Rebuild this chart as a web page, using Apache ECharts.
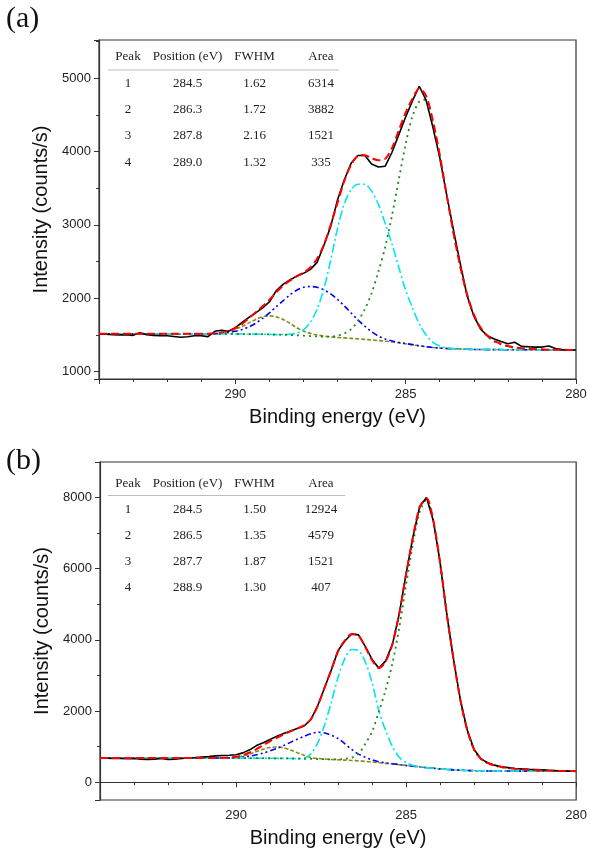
<!DOCTYPE html>
<html>
<head>
<meta charset="utf-8">
<script src="https://cdn.jsdelivr.net/npm/echarts@6/dist/echarts.min.js"></script>
<style>
html,body{margin:0;padding:0;background:#fff;}
#chart{width:590px;height:850px;}
</style>
</head>
<body>
<div id="chart"></div>
<script>
// Binding energy grid (eV)
const energies = [294.0,293.8,293.6,293.4,293.2,293.0,292.8,292.6,292.4,292.2,292.0,291.8,291.6,291.4,291.2,291.0,290.8,290.6,290.4,290.2,290.0,289.8,289.6,289.4,289.2,289.0,288.8,288.6,288.4,288.2,288.0,287.8,287.6,287.4,287.2,287.0,286.8,286.6,286.4,286.2,286.0,285.8,285.6,285.4,285.2,285.0,284.8,284.6,284.4,284.2,284.0,283.8,283.6,283.4,283.2,283.0,282.8,282.6,282.4,282.2,282.0,281.8,281.6,281.4,281.2,281.0,280.8,280.6,280.4,280.2,280.0];

// Panel (a)
const expA = [1515,1510,1505,1500,1505,1495,1530,1505,1495,1490,1490,1480,1468,1475,1490,1490,1478,1550,1565,1550,1600,1670,1740,1800,1870,1950,2100,2190,2250,2300,2340,2390,2490,2720,2980,3340,3615,3840,3945,3950,3830,3790,3800,3990,4230,4470,4690,4890,4700,4330,3920,3420,2940,2480,2040,1760,1580,1490,1445,1410,1380,1400,1345,1340,1335,1335,1350,1315,1300,1295,1295];
const fitA = [1515,1515,1515,1515,1515,1515,1515,1515,1515,1515,1515,1515,1515,1515,1515,1515,1518,1525,1535,1555,1590,1650,1730,1810,1890,1980,2080,2170,2240,2300,2350,2420,2540,2730,3000,3300,3600,3820,3940,3950,3910,3880,3900,4050,4290,4530,4720,4860,4760,4420,3960,3420,2900,2440,2060,1780,1600,1490,1420,1380,1350,1330,1320,1315,1310,1305,1300,1300,1298,1296,1295];
const peak1A = [1515,1515,1515,1515,1515,1515,1515,1515,1515,1515,1515,1515,1515,1515,1515,1515,1515,1515,1515,1514,1514,1513,1512,1511,1510,1508,1505,1502,1499,1495,1490,1485,1480,1478,1478,1490,1520,1580,1690,1850,2070,2360,2700,3130,3620,4100,4480,4680,4710,4360,3930,3420,2900,2440,2050,1770,1590,1480,1410,1370,1345,1325,1315,1308,1304,1301,1299,1298,1297,1296,1296];
const peak2A = [1515,1515,1515,1515,1515,1515,1515,1515,1515,1515,1515,1515,1515,1515,1515,1515,1515,1515,1515,1514,1514,1513,1512,1511,1510,1508,1505,1508,1510,1525,1570,1670,1850,2130,2520,2950,3290,3480,3555,3555,3460,3280,3020,2740,2420,2110,1870,1650,1500,1400,1350,1325,1314,1308,1305,1303,1302,1301,1300,1300,1299,1299,1298,1298,1298,1297,1297,1297,1296,1296,1296];
const peak3A = [1515,1515,1515,1515,1515,1515,1515,1515,1515,1515,1515,1515,1515,1515,1515,1515,1515,1515,1525,1535,1550,1575,1610,1660,1725,1800,1885,1965,2045,2110,2150,2160,2150,2115,2060,1985,1895,1800,1705,1620,1545,1485,1445,1418,1398,1383,1368,1353,1340,1330,1322,1316,1312,1308,1305,1303,1302,1301,1300,1300,1299,1299,1298,1298,1298,1297,1297,1297,1296,1296,1296];
const peak4A = [1515,1515,1515,1515,1515,1515,1515,1515,1515,1515,1515,1515,1515,1515,1515,1515,1515,1522,1532,1550,1578,1615,1665,1712,1748,1760,1748,1712,1660,1600,1553,1522,1500,1485,1474,1465,1460,1454,1447,1440,1432,1424,1415,1405,1393,1380,1366,1352,1340,1330,1322,1316,1312,1308,1305,1303,1302,1301,1300,1300,1299,1299,1298,1298,1298,1297,1297,1297,1296,1296,1296];

// Panel (b)
const expB = [680,675,670,665,660,665,650,640,650,665,640,645,670,680,690,710,720,740,750,758,770,825,910,1030,1110,1200,1290,1370,1440,1510,1580,1760,2150,2650,3150,3700,3970,4170,4140,3820,3450,3200,3410,3880,4740,5860,6890,7750,8000,7350,6170,4700,3420,2290,1460,920,660,545,480,435,410,385,375,365,358,350,338,327,318,312,310];
const fitB = [680,680,680,680,680,680,680,680,680,680,680,680,680,680,680,680,680,680,685,695,715,760,835,930,1040,1150,1250,1345,1430,1510,1600,1770,2140,2650,3160,3680,3990,4160,4120,3800,3430,3210,3400,3890,4750,5850,6880,7730,7980,7350,6160,4700,3420,2290,1460,915,655,540,472,428,400,380,364,352,342,334,327,321,316,313,311];
const peak1B = [680,680,680,680,680,680,680,680,680,680,680,680,680,680,680,680,680,680,680,680,679,678,677,676,675,673,671,669,667,664,660,656,651,646,640,640,660,690,800,1080,1420,1990,2600,3350,4350,5550,6700,7600,7950,7330,6150,4690,3410,2280,1450,905,650,535,470,425,398,378,362,350,340,333,326,320,316,313,311];
const peak2B = [680,680,680,680,680,680,680,680,680,680,680,680,680,680,680,680,680,680,680,680,679,678,677,676,675,673,671,669,667,664,672,800,1100,1600,2250,2950,3480,3730,3700,3380,2800,2000,1450,1000,700,550,470,435,410,392,375,360,348,338,330,324,319,316,315,314,313,313,312,312,312,311,311,311,310,310,310];
const peak3B = [680,680,680,680,680,680,680,680,680,680,680,680,680,680,680,680,680,680,682,685,695,710,735,770,820,880,950,1030,1120,1210,1290,1360,1405,1385,1320,1230,1080,920,790,700,630,575,545,520,497,470,450,430,410,392,375,360,348,338,330,324,319,316,315,314,313,313,312,312,312,311,311,311,310,310,310];
const peak4B = [680,680,680,680,680,680,680,680,680,680,680,680,680,680,680,680,680,680,680,688,705,740,795,860,925,975,990,965,905,830,760,690,668,652,640,632,622,612,600,585,568,548,530,512,492,470,450,430,410,392,375,360,348,338,330,324,319,316,315,314,313,313,312,312,312,311,311,311,310,310,310];

// Table contents
const tableHeader = ['Peak','Position (eV)','FWHM','Area'];
const tableA = [['1','284.5','1.62','6314'],['2','286.3','1.72','3882'],['3','287.8','2.16','1521'],['4','289.0','1.32','335']];
const tableB = [['1','284.5','1.50','12924'],['2','286.5','1.35','4579'],['3','287.7','1.87','1521'],['4','288.9','1.30','407']];
const panelLabels = ['(a)','(b)'];
const xName = 'Binding energy (eV)';
const yName = 'Intensity (counts/s)';

function pairs(arr){ return energies.map((e,i)=>[e, arr[i]]); }

const lineStyles = {
  p4:{color:'#8a8a1c', width:1.6, type:[4,2]},
  p3:{color:'#0000ff', width:1.6, type:[6,3,2,3,2,3]},
  p2:{color:'#00e5ee', width:1.6, type:[9,3,2,3]},
  p1:{color:'#1b8a1b', width:1.8, type:[2,4]},
  exp:{color:'#000000', width:1.6, type:'solid'},
  fit:{color:'#ff0000', width:2, type:[8,4]}
};

function mk(idx, arr, key, smooth){
  const s = lineStyles[key];
  return {type:'line', xAxisIndex:idx, yAxisIndex:idx, data:pairs(arr), showSymbol:false, symbol:'none',
    smooth:smooth, lineStyle:{color:s.color, width:s.width, type:s.type}, itemStyle:{color:s.color},
    animation:false, silent:true, z: 2};
}

const FONT = '"Liberation Sans", Arial, sans-serif';
const SERIF = '"Liberation Serif", "Times New Roman", serif';

function xAxis(idx){
  return {type:'value', gridIndex:idx, min:280, max:294, interval:5, inverse:true,
    name:xName, nameLocation:'middle', nameGap:28,
    nameTextStyle:{fontSize:20, color:'#111', fontFamily:FONT},
    axisLine:{show:true, lineStyle:{color:'#333', width:1.2}},
    axisTick:{show:true, inside:false, length:5, lineStyle:{color:'#333'}},
    minorTick:{show:true, splitNumber:5, length:3, lineStyle:{color:'#333'}},
    splitLine:{show:false},
    axisLabel:{fontSize:13, color:'#222', fontFamily:FONT, margin:9, showMaxLabel:false,
      formatter:function(v){ return String(v); }}};
}
function yAxis(idx, mn, mx){
  return {type:'value', gridIndex:idx, min:mn, max:mx, splitNumber:5,
    name:yName, nameLocation:'middle', nameGap:48,
    nameTextStyle:{fontSize:20, color:'#111', fontFamily:FONT},
    axisLine:{show:true, lineStyle:{color:'#333', width:1.2}},
    axisTick:{show:true, inside:false, length:5, lineStyle:{color:'#333'}},
    minorTick:{show:true, splitNumber:2, length:3, lineStyle:{color:'#333'}},
    splitLine:{show:false},
    axisLabel:{fontSize:13, color:'#222', fontFamily:FONT, margin:8, showMinLabel:false, showMaxLabel:false,
      formatter:function(v){ return String(v); }}};
}

const colX = [128, 187.5, 254.5, 321];
function tableGraphics(headerY, lineY, rowYs, rows, lineEnd){
  const g = [];
  tableHeader.forEach((t,j)=>g.push({type:'text', x:colX[j], y:headerY,
    style:{text:t, font:'13px '+SERIF, fill:'#222', align:'center', verticalAlign:'middle'}}));
  g.push({type:'line', shape:{x1:108, y1:lineY, x2:lineEnd, y2:lineY}, style:{stroke:'#bdbdbd', lineWidth:1}});
  rows.forEach((r,i)=>r.forEach((t,j)=>g.push({type:'text', x:colX[j], y:rowYs[i],
    style:{text:t, font:'13px '+SERIF, fill:'#222', align:'center', verticalAlign:'middle'}})));
  return g;
}

const graphics = [
  {type:'text', x:6, y:4, style:{text:panelLabels[0], font:'30px '+SERIF, fill:'#111'}},
  {type:'text', x:6, y:446, style:{text:panelLabels[1], font:'30px '+SERIF, fill:'#111'}}
].concat(tableGraphics(57, 70, [84,110,136,162.5], tableA, 339))
 .concat(tableGraphics(483.5, 495.5, [509.5,535.7,561.7,587.3], tableB, 345));

const chart = echarts.init(document.getElementById('chart'), null, {renderer:'canvas'});
chart.setOption({
  backgroundColor:'#fff',
  animation:false,
  grid:[
    {left:99, top:40, width:477, height:339, show:true, borderColor:'#333', borderWidth:1.2, backgroundColor:'transparent'},
    {left:100, top:462, width:477, height:338, show:true, borderColor:'#333', borderWidth:1.2, backgroundColor:'transparent'}
  ],
  xAxis:[xAxis(0), xAxis(1)],
  yAxis:[yAxis(0, 900, 5520), yAxis(1, -500, 9000)],
  series:[
    mk(0, peak4A, 'p4', 0.3), mk(0, peak3A, 'p3', 0.3), mk(0, peak2A, 'p2', 0.3), mk(0, peak1A, 'p1', 0.3),
    mk(0, expA, 'exp', false), mk(0, fitA, 'fit', 0.3),
    mk(1, peak4B, 'p4', 0.3), mk(1, peak3B, 'p3', 0.3), mk(1, peak2B, 'p2', 0.3), mk(1, peak1B, 'p1', 0.3),
    mk(1, expB, 'exp', false), mk(1, fitB, 'fit', 0.3)
  ],
  graphic:graphics
});
</script>
</body>
</html>
